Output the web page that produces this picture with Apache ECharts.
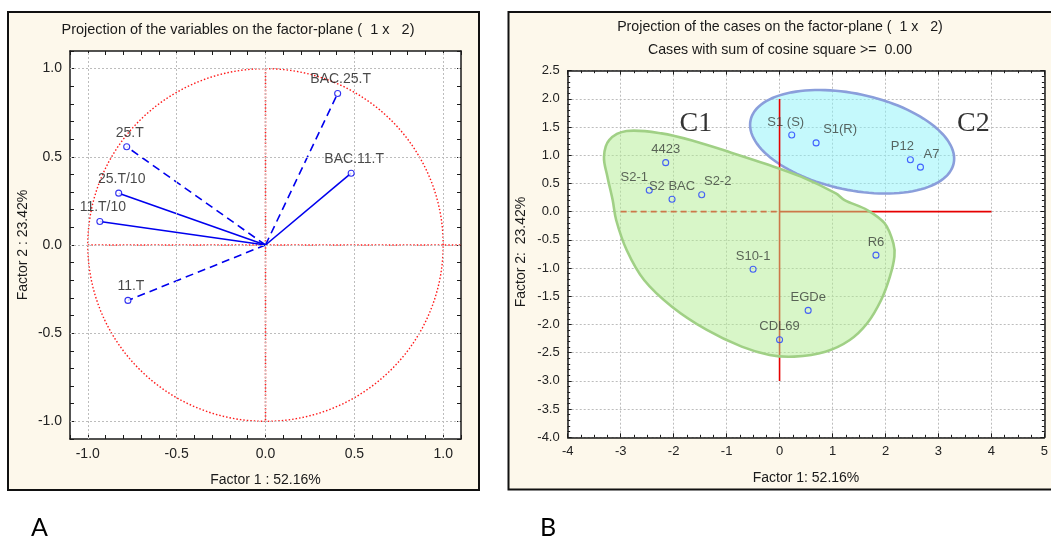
<!DOCTYPE html>
<html>
<head>
<meta charset="utf-8">
<script src="https://cdn.jsdelivr.net/npm/echarts@6/dist/echarts.min.js"></script>
<style>
  html, body { margin: 0; padding: 0; background: #ffffff; }
  #chart { width: 1051px; height: 539px; }
</style>
</head>
<body>
<div id="chart"></div>
<script>
// ---- Panel A: projection of the variables (loadings on factors 1 and 2) ----
const varNames  = ['BAC.25.T', 'BAC.11.T', '25.T', '25.T/10', '11.T/10', '11.T'];
const varF1     = [0.406, 0.482, -0.781, -0.826, -0.932, -0.774];
const varF2     = [0.859, 0.407, 0.557, 0.294, 0.133, -0.314];
const varDashed = [true, false, true, false, false, true];
const ticksA    = [-1.0, -0.5, 0.0, 0.5, 1.0];

// ---- Panel B: projection of the cases (scores on factors 1 and 2) ----
const caseNames = ['S1 (S)', 'S1(R)', 'P12', 'A7', '4423', 'S2-1', 'S2 BAC', 'S2-2', 'S10-1', 'R6', 'EGDe', 'CDL69'];
const caseF1    = [0.23, 0.69, 2.47, 2.66, -2.15, -2.46, -2.03, -1.47, -0.50, 1.82, 0.54, 0.00];
const caseF2    = [1.36, 1.22, 0.92, 0.79, 0.87, 0.38, 0.22, 0.30, -1.02, -0.77, -1.75, -2.27];

// cluster annotations
const clusterNames = ['C1', 'C2'];
const clusterX     = [-1.58, 3.66];
const clusterY     = [1.555, 1.555];

// outline of cluster C1 (data units)
const c1Outline = [
  [-2.887, 1.431], [-2.229, 1.389], [-1.571, 1.241], [-0.912, 1.047], [-0.254, 0.845],
  [0.404, 0.621], [1.063, 0.325], [1.227, 0.207], [1.655, 0.030], [1.984, -0.206],
  [2.149, -0.561], [2.168, -0.798], [2.083, -1.152], [1.918, -1.566], [1.655, -1.978],
  [1.326, -2.274], [0.865, -2.482], [0.273, -2.570], [-0.188, -2.540], [-0.715, -2.393],
  [-1.373, -2.097], [-2.032, -1.684], [-2.558, -1.211], [-2.887, -0.679], [-3.085, -0.147],
  [-3.151, 0.207], [-3.250, 0.621], [-3.315, 0.975], [-3.217, 1.271]
];
// ellipse of cluster C2: centre, semi-axes (data units), tilt (deg, clockwise on screen)
const c2Ellipse = { cx: 1.37, cy: 1.24, rx: 1.96, ry: 0.853, tilt: 12 };

// reference lines of panel B
const refVertB   = [[0, 2.0], [0, -3.0]];
const refLeftB   = [[-3, 0], [0, 0]];
const refRightB  = [[0, 0], [4, 0]];
// reference lines of panel A
const refVertA   = [[0, 1.0], [0, -1.0]];
const refHorizA  = [[-1.0, 0], [1.1, 0]];

// label nudges (px) for readability
const caseLabelShift = { 'S1 (S)': -6, 'S1(R)': 24, 'P12': -8, 'A7': 11, 'S2-1': -15, 'S2-2': 16 };

const FONT = '"Liberation Sans", Arial, Helvetica, sans-serif';
const INK = '#1a1a1a';
const CREAM = '#fdf8eb';

function frameAxis(extra, withLabels, fontSize, fmt) {
  return Object.assign({
    type: 'value',
    axisLine: { show: true, onZero: false, lineStyle: { color: INK, width: 1.5 } },
    axisTick: { show: true, inside: true, length: 4, lineStyle: { color: INK, width: 1 } },
    axisLabel: withLabels ? { show: true, color: '#222', fontSize: fontSize, fontFamily: FONT, margin: 8, formatter: fmt } : { show: false },
    splitLine: { show: false }
  }, extra);
}

const fmtA = v => (Math.abs(v * 2 - Math.round(v * 2)) < 1e-6 ? v.toFixed(1) : '');
const fmtBx = v => String(Math.round(v));
const fmtBy = v => v.toFixed(1);

const xAxes = [
  frameAxis({ gridIndex: 0, position: 'bottom', min: -1.1, max: 1.1, interval: 0.1 }, true, 14, fmtA),
  frameAxis({ gridIndex: 0, position: 'top', min: -1.1, max: 1.1, interval: 0.1 }, false),
  frameAxis({ gridIndex: 1, position: 'bottom', min: -4, max: 5, interval: 1,
    minorTick: { show: true, splitNumber: 4, length: 2.5, lineStyle: { color: INK } },
    splitLine: { show: true, lineStyle: { type: [2, 2], color: '#bdbdbd', width: 1 } } }, true, 13, fmtBx),
  frameAxis({ gridIndex: 1, position: 'top', min: -4, max: 5, interval: 1,
    minorTick: { show: true, splitNumber: 4, length: 2.5, lineStyle: { color: INK } } }, false)
];
const yAxes = [
  frameAxis({ gridIndex: 0, position: 'left', min: -1.1, max: 1.1, interval: 0.1 }, true, 14, fmtA),
  frameAxis({ gridIndex: 0, position: 'right', min: -1.1, max: 1.1, interval: 0.1 }, false),
  frameAxis({ gridIndex: 1, position: 'left', min: -4, max: 2.5, interval: 0.5,
    minorTick: { show: true, splitNumber: 5, length: 2.5, lineStyle: { color: INK } },
    splitLine: { show: true, lineStyle: { type: [2, 2], color: '#bdbdbd', width: 1 } } }, true, 13, fmtBy),
  frameAxis({ gridIndex: 1, position: 'right', min: -4, max: 2.5, interval: 0.5,
    minorTick: { show: true, splitNumber: 5, length: 2.5, lineStyle: { color: INK } } }, false)
];

const series = [];

// panel A: dotted grid at the labelled ticks
series.push({
  type: 'line', xAxisIndex: 0, yAxisIndex: 0, data: [], silent: true, z: 1,
  markLine: {
    silent: true, symbol: ['none', 'none'], label: { show: false }, animation: false,
    lineStyle: { type: [2, 2], color: '#bdbdbd', width: 1 },
    emphasis: { disabled: true },
    data: ticksA.map(v => ({ xAxis: v })).concat(ticksA.map(v => ({ yAxis: v })))
  }
});

// panel A: unit circle
series.push({
  type: 'custom', xAxisIndex: 0, yAxisIndex: 0, coordinateSystem: 'cartesian2d',
  data: [[0, 0]], silent: true, z: 2,
  renderItem: (params, api) => {
    const pts = [];
    for (let d = 0; d <= 360; d += 2) {
      const a = d * Math.PI / 180;
      pts.push(api.coord([Math.cos(a), Math.sin(a)]));
    }
    return { type: 'polyline', shape: { points: pts },
      style: { stroke: '#ff1a1a', lineWidth: 1.4, lineDash: [1.5, 2], fill: null } };
  }
});

// panel A: red dotted axes through the origin
[refVertA, refHorizA].forEach(seg => series.push({
  type: 'line', xAxisIndex: 0, yAxisIndex: 0, data: seg, symbol: 'none', silent: true, z: 2,
  lineStyle: { color: '#ff1a1a', width: 1.6, type: [1.5, 2] }
}));

// panel A: loading vectors
varNames.forEach((n, i) => series.push({
  type: 'line', xAxisIndex: 0, yAxisIndex: 0, name: n, symbol: 'none', silent: true, z: 3,
  data: [[0, 0], [varF1[i], varF2[i]]],
  lineStyle: { color: '#0000ee', width: 1.6, type: varDashed[i] ? [8, 5] : 'solid' }
}));

// panel A: loading points with labels
series.push({
  type: 'scatter', xAxisIndex: 0, yAxisIndex: 0, z: 5,
  symbol: 'circle', symbolSize: 6,
  itemStyle: { color: '#ffffff', borderColor: '#0000ee', borderWidth: 1.1 },
  label: { show: true, position: 'top', distance: 3.5, offset: [3, 0], formatter: '{b}',
    color: '#1a1a1a', fontSize: 14, fontFamily: FONT },
  data: varNames.map((n, i) => ({ name: n, value: [varF1[i], varF2[i]] }))
});

// panel B: cluster C2 ellipse
series.push({
  type: 'custom', xAxisIndex: 2, yAxisIndex: 2, coordinateSystem: 'cartesian2d',
  data: [[c2Ellipse.cx, c2Ellipse.cy]], silent: true, z: 2,
  renderItem: (params, api) => {
    const c = api.coord([c2Ellipse.cx, c2Ellipse.cy]);
    const s = api.size([c2Ellipse.rx, c2Ellipse.ry]);
    const th = c2Ellipse.tilt * Math.PI / 180;
    const pts = [];
    for (let d = 0; d < 360; d += 3) {
      const t = d * Math.PI / 180;
      const ex = s[0] * Math.cos(t), ey = s[1] * Math.sin(t);
      pts.push([c[0] + ex * Math.cos(th) - ey * Math.sin(th), c[1] + ex * Math.sin(th) + ey * Math.cos(th)]);
    }
    return { type: 'polygon', shape: { points: pts },
      style: { fill: 'rgba(140,244,250,0.5)', stroke: '#8a9edb', lineWidth: 2.6 } };
  }
});

// panel B: red reference lines
series.push({
  type: 'line', xAxisIndex: 2, yAxisIndex: 2, data: refVertB, symbol: 'none', silent: true, z: 3,
  lineStyle: { color: '#e60000', width: 1.6 }
});
series.push({
  type: 'line', xAxisIndex: 2, yAxisIndex: 2, data: refLeftB, symbol: 'none', silent: true, z: 3,
  lineStyle: { color: '#e60000', width: 1.8, type: [6, 4] }
});
series.push({
  type: 'line', xAxisIndex: 2, yAxisIndex: 2, data: refRightB, symbol: 'none', silent: true, z: 3,
  lineStyle: { color: '#e60000', width: 1.8 }
});

// panel B: cluster C1 outline
series.push({
  type: 'custom', xAxisIndex: 2, yAxisIndex: 2, coordinateSystem: 'cartesian2d',
  data: [[0, 0]], silent: true, z: 4,
  renderItem: (params, api) => ({
    type: 'polygon',
    shape: { points: c1Outline.map(p => api.coord(p)), smooth: 0.35 },
    style: { fill: 'rgba(178,238,145,0.5)', stroke: '#a0d085', lineWidth: 2.6 }
  })
});

// panel B: case scores with labels
series.push({
  type: 'scatter', xAxisIndex: 2, yAxisIndex: 2, z: 6,
  symbol: 'circle', symbolSize: 6,
  itemStyle: { color: 'rgba(255,255,255,0)', borderColor: '#1f3dff', borderWidth: 1.1 },
  label: { show: true, position: 'top', distance: 3, formatter: '{b}',
    color: '#3a3f3a', fontSize: 13, fontFamily: FONT },
  data: caseNames.map((n, i) => ({
    name: n, value: [caseF1[i], caseF2[i]],
    label: { offset: [caseLabelShift[n] || 0, 0] }
  }))
});

// panel B: cluster names
series.push({
  type: 'scatter', xAxisIndex: 2, yAxisIndex: 2, z: 6, silent: true,
  symbolSize: 0,
  label: { show: true, position: 'inside', formatter: '{b}', color: '#000',
    fontSize: 28, fontFamily: '"Liberation Serif", "Times New Roman", serif' },
  data: clusterNames.map((n, i) => ({ name: n, value: [clusterX[i], clusterY[i]] }))
});

function txt(x, y, s, size, extra) {
  return Object.assign({
    type: 'text', x: x, y: y, z: 10, silent: true,
    style: { text: s, fill: '#1a1a1a', fontSize: size, fontFamily: FONT, align: 'center', verticalAlign: 'middle' }
  }, extra || {});
}

const PANEL_TAG_FONT = 'Lato, Carlito, "Open Sans", sans-serif';

const option = {
  animation: false,
  backgroundColor: '#ffffff',
  grid: [
    { left: 70, top: 51, width: 391, height: 388, show: true, backgroundColor: '#ffffff', borderWidth: 0 },
    { left: 567.7, top: 70.7, width: 477.3, height: 366.6, show: true, backgroundColor: '#ffffff', borderWidth: 0 }
  ],
  xAxis: xAxes,
  yAxis: yAxes,
  series: series,
  graphic: [
    { type: 'rect', z: -10, silent: true, shape: { x: 8, y: 12, width: 471, height: 478 },
      style: { fill: CREAM, stroke: '#111', lineWidth: 2 } },
    { type: 'rect', z: -10, silent: true, shape: { x: 508.5, y: 12, width: 560, height: 477.5 },
      style: { fill: CREAM, stroke: '#111', lineWidth: 2 } },
    txt(238, 29.5, 'Projection of the variables on the factor-plane (  1 x   2)', 14.5),
    txt(780, 27.5, 'Projection of the cases on the factor-plane (  1 x   2)', 14.2),
    txt(780, 50.5, 'Cases with sum of cosine square >=  0.00', 14.2),
    txt(265.5, 480, 'Factor 1 : 52.16%', 14),
    txt(806, 478.5, 'Factor 1: 52.16%', 14),
    txt(23, 245, 'Factor 2 : 23.42%', 14, { rotation: Math.PI / 2 }),
    txt(520.7, 252, 'Factor 2:  23.42%', 14, { rotation: Math.PI / 2 }),
    txt(39.5, 528, 'A', 25, { style: { text: 'A', fill: '#000', fontSize: 25,
      fontFamily: PANEL_TAG_FONT, align: 'center', verticalAlign: 'middle' } }),
    txt(548, 528, 'B', 25, { style: { text: 'B', fill: '#000', fontSize: 25,
      fontFamily: PANEL_TAG_FONT, align: 'center', verticalAlign: 'middle' } })
  ]
};

const chart = echarts.init(document.getElementById('chart'), null, { renderer: 'canvas' });
chart.setOption(option);
</script>
</body>
</html>
